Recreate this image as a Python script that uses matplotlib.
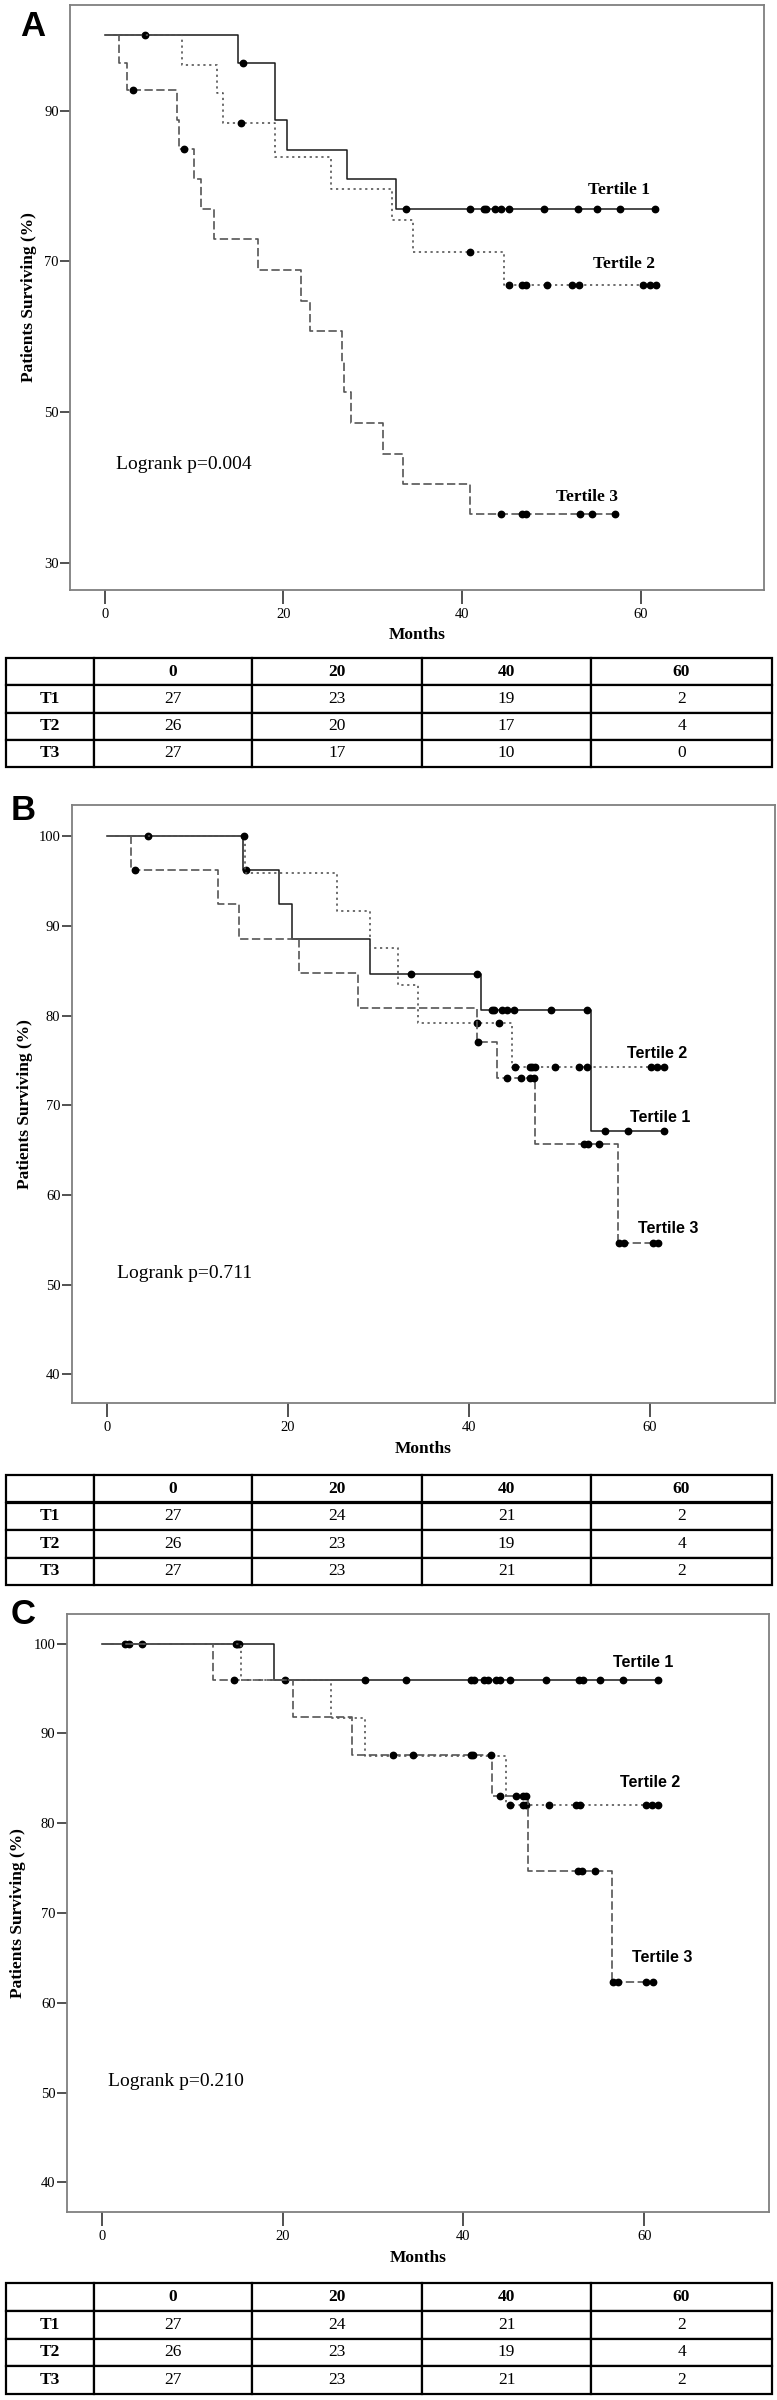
import numpy as np
import matplotlib
matplotlib.use("Agg")
import matplotlib.pyplot as plt

plt.rcParams['font.family'] = ['Liberation Serif', 'DejaVu Serif']
plt.rcParams['lines.scale_dashes'] = False

# ---- panel A: step times (months) and survival (%) per tertile, censor times
a_t1_time = [0, 14.9, 19.0, 20.4, 27.1, 32.6]
a_t1_surv = [100, 96.3, 88.7, 84.8, 80.9, 77.0]
a_t1_cens = [4.5, 15.5, 33.7, 40.9, 42.5, 42.7, 43.7, 44.3, 45.2, 49.2,
             53.0, 55.1, 57.7, 61.6]
a_t2_time = [0, 8.6, 12.6, 13.2, 19.1, 25.3, 32.2, 34.5, 44.7]
a_t2_surv = [100, 96.0, 92.3, 88.3, 83.9, 79.6, 75.5, 71.3, 66.9]
a_t2_cens = [15.2, 40.9, 45.2, 46.7, 47.1, 49.5, 52.3, 53.1, 60.2, 61.0, 61.7]
a_t3_time = [0, 1.6, 2.5, 8.1, 8.3, 10.0, 10.8, 12.2, 17.1, 22.0, 23.0,
             26.5, 26.8, 27.6, 31.1, 33.4, 40.9]
a_t3_surv = [100, 96.3, 92.7, 88.7, 84.9, 80.9, 76.9, 72.9, 68.8, 64.8, 60.7,
             56.6, 52.6, 48.6, 44.5, 40.5, 36.5]
a_t3_cens = [3.1, 8.9, 44.3, 46.7, 47.1, 53.2, 54.5, 57.1]

# ---- panel B
b_t1_time = [0, 15.0, 19.0, 20.4, 29.1, 41.3, 53.5]
b_t1_surv = [100, 96.3, 92.5, 88.6, 84.7, 80.6, 67.1]
b_t1_cens = [4.6, 15.4, 33.6, 40.9, 42.5, 42.8, 43.6, 44.2, 45.0, 49.1, 53.0,
             55.0, 57.6, 61.5]
b_t2_time = [0, 15.3, 25.4, 29.1, 32.2, 34.4, 44.7]
b_t2_surv = [100, 95.9, 91.7, 87.6, 83.4, 79.2, 74.3]
b_t2_cens = [15.2, 40.9, 43.3, 45.1, 46.7, 47.0, 47.3, 49.5, 52.2, 53.0,
             60.1, 60.8, 61.5]
b_t3_time = [0, 2.7, 12.3, 14.6, 21.2, 27.7, 40.9, 43.1, 47.3, 56.5]
b_t3_surv = [100, 96.3, 92.5, 88.6, 84.8, 80.9, 77.1, 73.0, 65.7, 54.7]
b_t3_cens = [3.1, 41.0, 44.2, 45.8, 46.7, 47.2, 52.7, 53.1, 54.4, 56.6,
             57.1, 60.3, 60.9]

# ---- panel C
c_t1_time = [0, 19.0]
c_t1_surv = [100, 96.0]
c_t1_cens = [2.6, 3.0, 4.5, 14.8, 15.0, 15.2, 20.3, 29.1, 33.6, 40.8, 41.2,
             42.3, 42.7, 43.6, 44.1, 45.1, 49.1, 52.8, 53.2, 55.1, 57.6, 61.5]
c_t2_time = [0, 15.4, 25.4, 29.1, 44.7]
c_t2_surv = [100, 95.9, 91.7, 87.5, 82.0]
c_t2_cens = [45.1, 46.6, 46.9, 49.5, 52.4, 52.9, 60.2, 60.9, 61.5]
c_t3_time = [0, 12.3, 21.1, 27.7, 43.2, 47.1, 56.4]
c_t3_surv = [100, 96.0, 91.8, 87.6, 83.0, 74.7, 62.3]
c_t3_cens = [14.6, 32.2, 34.4, 40.8, 41.1, 43.0, 44.1, 45.8, 46.6, 46.9,
             52.7, 53.1, 54.5, 56.5, 57.1, 60.2, 61.0]

# numbers at risk
table_cols = ['', '0', '20', '40', '60']
table_rows = ['T1', 'T2', 'T3']
a_risk = [[27, 23, 19, 2], [26, 20, 17, 4], [27, 17, 10, 0]]
b_risk = [[27, 24, 21, 2], [26, 23, 19, 4], [27, 23, 21, 2]]
c_risk = [[27, 24, 21, 2], [26, 23, 19, 4], [27, 23, 21, 2]]

a_pvalue = 'Logrank p=0.004'
b_pvalue = 'Logrank p=0.711'
c_pvalue = 'Logrank p=0.210'

W, H = 777, 2400
fig = plt.figure(figsize=(W / 100, H / 100), dpi=100)

styles = [dict(color='#1a1a1a', linestyle='-', lw=1.1),
          dict(color='#555555', linestyle=(0, (1.6, 2.6)), lw=1.2),
          dict(color='#555555', linestyle=(0, (6, 2.5)), lw=1.2)]


def px_axes(left, top, right, bottom):
    return fig.add_axes([left / W, 1 - bottom / H, (right - left) / W, (bottom - top) / H])


def km_curve(ax, time, surv, cens, style):
    time = np.asarray(time, float)
    surv = np.asarray(surv, float)
    cens = np.asarray(cens, float)
    end = max(cens.max(), time.max())
    x = np.append(time, end)
    y = np.append(surv, surv[-1])
    ax.step(x, y, where='post', **style)
    idx = np.searchsorted(time, cens, side='right') - 1
    ax.plot(cens, surv[idx], 'o', color='black', ms=4.6, mec='black', lw=0)


def km_panel(box, curves, ylim, yticks, pvalue, ptext, labels, lab_font, ylab_x):
    ax = px_axes(*box)
    for (t, s, c), st in zip(curves, styles):
        km_curve(ax, t, s, c, st)
    ax.set_xlim(-3.9, 73.8)
    ax.set_ylim(*ylim)
    ax.set_xticks([0, 20, 40, 60])
    ax.set_yticks(yticks)
    for sp in ax.spines.values():
        sp.set_color('#7f7f7f')
        sp.set_linewidth(1.3)
    ax.tick_params(axis='x', length=10, width=1.2, color='#333333', labelsize=10.5, pad=3)
    ax.tick_params(axis='y', length=7, width=1.2, color='#333333', labelsize=10.5, pad=1)
    ax.set_xlabel('Months', fontsize=12.5, fontweight='bold')
    ax.xaxis.set_label_coords(0.5, -0.064)
    ax.set_ylabel('Patients Surviving (%)', fontsize=12.5, fontweight='bold')
    ax.yaxis.set_label_coords(ylab_x, 0.5)
    ax.text(ptext[0], ptext[1], pvalue, fontsize=14, va='center', ha='left')
    for name, (lx, ly) in labels.items():
        if lab_font == 'sans':
            ax.text(lx, ly, name, fontsize=11.5, fontweight='bold', va='center', ha='left',
                    family=['Liberation Sans', 'DejaVu Sans'])
        else:
            ax.text(lx, ly, name, fontsize=12.5, fontweight='bold', va='center', ha='left')
    return ax


def risk_table(top, bottom, data):
    ax = px_axes(6, top, 772, bottom)
    ax.axis('off')
    cells = [table_cols] + [[r] + [str(v) for v in row] for r, row in zip(table_rows, data)]
    widths = np.array([88, 158, 170, 169, 181]) / 766
    tb = ax.table(cellText=cells, colWidths=list(widths), cellLoc='center', bbox=[0, 0, 1, 1])
    tb.auto_set_font_size(False)
    for (r, c), cell in tb.get_celld().items():
        cell.set_linewidth(1.6)
        cell.set_edgecolor('black')
        txt = cell.get_text()
        txt.set_fontsize(12.5)
        txt.set_family(['Liberation Serif', 'DejaVu Serif'])
        if r == 0 or c == 0:
            txt.set_fontweight('bold')
    return ax


km_panel((70, 5, 764, 590),
         [(a_t1_time, a_t1_surv, a_t1_cens),
          (a_t2_time, a_t2_surv, a_t2_cens),
          (a_t3_time, a_t3_surv, a_t3_cens)],
         (26.4, 104.0), [30, 50, 70, 90], a_pvalue, (1.3, 43.0),
         {'Tertile 1': (54.1, 79.4), 'Tertile 2': (54.7, 69.7), 'Tertile 3': (50.5, 38.8)},
         'serif', -0.047)
risk_table(658, 767, a_risk)

km_panel((71.5, 805, 775, 1403),
         [(b_t1_time, b_t1_surv, b_t1_cens),
          (b_t2_time, b_t2_surv, b_t2_cens),
          (b_t3_time, b_t3_surv, b_t3_cens)],
         (36.8, 103.5), [40, 50, 60, 70, 80, 90, 100], b_pvalue, (1.1, 51.3),
         {'Tertile 2': (57.5, 75.8), 'Tertile 1': (57.8, 68.6), 'Tertile 3': (58.7, 56.3)},
         'sans', -0.055)
risk_table(1475, 1585, b_risk)

km_panel((66.5, 1614, 769, 2212),
         [(c_t1_time, c_t1_surv, c_t1_cens),
          (c_t2_time, c_t2_surv, c_t2_cens),
          (c_t3_time, c_t3_surv, c_t3_cens)],
         (36.7, 103.3), [40, 50, 60, 70, 80, 90, 100], c_pvalue, (0.7, 51.2),
         {'Tertile 1': (56.5, 97.9), 'Tertile 2': (57.3, 84.5), 'Tertile 3': (58.6, 65.0)},
         'sans', -0.058)
risk_table(2283, 2394, c_risk)

for letter, (lx, ly) in {'A': (33, 27), 'B': (23, 811), 'C': (23, 1614)}.items():
    fig.text(lx / W, 1 - ly / H, letter, fontsize=25, fontweight='bold', ha='center', va='center',
             family=['Liberation Sans', 'DejaVu Sans'])

fig.savefig('out.png', dpi=100)
